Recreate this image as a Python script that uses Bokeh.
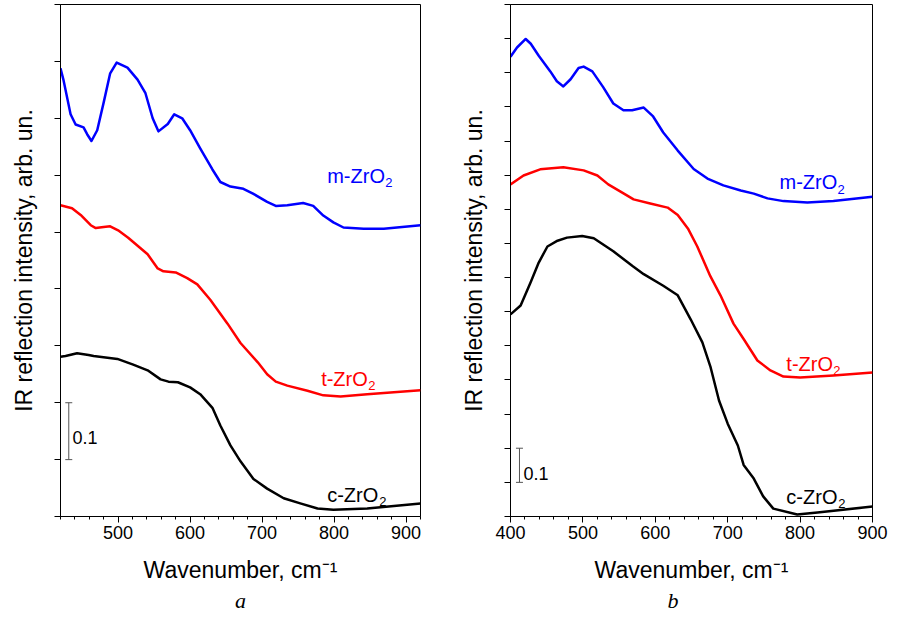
from bokeh.plotting import figure
from bokeh.layouts import row
from bokeh.models import Range1d, SingleIntervalTicker, Label, Title, CustomJSTickFormatter
from bokeh.embed import file_html
from bokeh.resources import INLINE

# ---------------- Panel a ----------------
a_m_x = [420, 424, 434, 441, 452, 457, 463, 471, 480, 489, 498, 513, 527, 538, 548, 556, 569, 578,
         589, 600, 614, 631, 642, 656, 674, 688, 707, 719, 735, 757, 771, 785, 799, 813, 841, 869, 920]
a_m_y = [0.788, 0.768, 0.707, 0.689, 0.684, 0.672, 0.660, 0.679, 0.728, 0.779, 0.798, 0.789, 0.768,
         0.744, 0.700, 0.677, 0.690, 0.707, 0.700, 0.679, 0.647, 0.610, 0.588, 0.580, 0.576, 0.567,
         0.553, 0.546, 0.547, 0.551, 0.546, 0.529, 0.517, 0.508, 0.506, 0.506, 0.512]

a_t_x = [420, 436, 448, 462, 469, 480, 489, 500, 514, 541, 555, 563, 580, 596, 610, 628, 652, 670,
         694, 707, 719, 735, 763, 785, 809, 846, 920]
a_t_y = [0.547, 0.542, 0.530, 0.512, 0.507, 0.509, 0.510, 0.503, 0.490, 0.461, 0.436, 0.431, 0.429,
         0.419, 0.408, 0.381, 0.339, 0.305, 0.271, 0.250, 0.237, 0.230, 0.221, 0.213, 0.211, 0.215, 0.222]

a_c_x = [420, 427, 443, 459, 466, 499, 521, 541, 559, 570, 583, 600, 614, 631, 642, 656, 670, 688,
         707, 730, 753, 777, 799, 846, 920]
a_c_y = [0.281, 0.282, 0.287, 0.284, 0.282, 0.277, 0.267, 0.257, 0.241, 0.237, 0.236, 0.227, 0.215,
         0.191, 0.160, 0.125, 0.097, 0.066, 0.049, 0.032, 0.023, 0.014, 0.012, 0.014, 0.023]

# ---------------- Panel b ----------------
b_m_x = [400, 409, 421, 428, 439, 455, 464, 473, 483, 494, 501, 513, 528, 542, 556, 568, 584, 597,
         611, 631, 653, 672, 694, 718, 736, 755, 777, 810, 846, 900]
b_m_y = [1.347, 1.374, 1.399, 1.385, 1.350, 1.304, 1.275, 1.260, 1.281, 1.314, 1.318, 1.304, 1.258,
         1.210, 1.190, 1.190, 1.198, 1.172, 1.125, 1.072, 1.018, 0.990, 0.970, 0.955, 0.946, 0.932,
         0.924, 0.920, 0.924, 0.937]

b_t_x = [400, 418, 441, 473, 501, 520, 535, 552, 570, 593, 617, 631, 645, 658, 676, 690, 708, 722,
         741, 759, 777, 800, 846, 900]
b_t_y = [0.973, 0.999, 1.017, 1.023, 1.014, 0.999, 0.973, 0.952, 0.929, 0.917, 0.905, 0.883, 0.844,
         0.791, 0.704, 0.648, 0.565, 0.520, 0.457, 0.428, 0.410, 0.407, 0.413, 0.422]

b_c_x = [400, 414, 428, 439, 451, 465, 478, 499, 515, 542, 569, 584, 611, 631, 649, 665, 676, 688,
         700, 714, 722, 736, 749, 763, 796, 824, 900]
b_c_y = [0.592, 0.618, 0.687, 0.744, 0.791, 0.808, 0.817, 0.822, 0.815, 0.777, 0.733, 0.710, 0.676,
         0.648, 0.577, 0.510, 0.440, 0.340, 0.272, 0.208, 0.151, 0.111, 0.059, 0.023, 0.006, 0.012, 0.029]

series_names = ["m-ZrO", "t-ZrO", "c-ZrO"]
series_colors = ["#0000ff", "#ff0000", "#000000"]
scale_value = 0.1

FONT = "Liberation Sans"


def make_panel(xr, yr, curves, labels, bar_x, bar_text_xy, caption, cap_align, cap_offset,
               width, border_left, border_right):
    p = figure(width=width, height=617,
               x_range=Range1d(xr[0], xr[1]), y_range=Range1d(yr[0], yr[1]),
               output_backend="svg", toolbar_location=None,
               min_border_left=border_left, min_border_right=border_right,
               min_border_top=4, min_border_bottom=101)
    p.grid.visible = False
    p.outline_line_color = "black"
    p.outline_line_width = 1
    p.background_fill_color = "white"
    p.border_fill_color = "white"

    p.xaxis.ticker = SingleIntervalTicker(interval=100, num_minor_ticks=5)
    p.xaxis.major_tick_in = 0
    p.xaxis.major_tick_out = 6
    p.xaxis.minor_tick_in = 0
    p.xaxis.minor_tick_out = 3
    p.xaxis.major_label_text_font = FONT
    p.xaxis.major_label_text_font_size = "18px"
    p.xaxis.major_label_text_color = "black"
    p.xaxis.major_label_standoff = 3
    p.xaxis.axis_label = "Wavenumber, cm\u207b\u00b9"
    p.xaxis.axis_label_text_font = FONT
    p.xaxis.axis_label_text_font_size = "23px"
    p.xaxis.axis_label_text_font_style = "normal"
    p.xaxis.axis_label_text_color = "black"
    p.xaxis.axis_label_standoff = 15
    p.xaxis.axis_line_color = "black"

    p.yaxis.ticker = SingleIntervalTicker(interval=0.1, num_minor_ticks=0)
    p.yaxis.formatter = CustomJSTickFormatter(code="return '';")
    p.yaxis.major_tick_in = 0
    p.yaxis.major_tick_out = 6
    p.yaxis.minor_tick_line_color = None
    p.yaxis.major_label_standoff = 0
    p.yaxis.axis_label = "IR reflection intensity, arb. un."
    p.yaxis.axis_label_text_font = FONT
    p.yaxis.axis_label_text_font_size = "23px"
    p.yaxis.axis_label_text_font_style = "normal"
    p.yaxis.axis_label_text_color = "black"
    p.yaxis.axis_label_standoff = 18
    p.yaxis.axis_line_color = "black"

    for (xs, ys), col in zip(curves, series_colors):
        p.line(xs, ys, line_color=col, line_width=2.5, line_join="round")

    sub_offsets = [58, 47, 52]
    for (lx, ly), name, col, so in zip(labels, series_names, series_colors, sub_offsets):
        p.add_layout(Label(x=lx, y=ly, text=name, text_font=FONT, text_font_size="20px",
                           text_color=col, text_baseline="alphabetic", text_align="left"))
        p.add_layout(Label(x=lx, y=ly, x_offset=so, y_offset=-7, text="2", text_font=FONT,
                           text_font_size="13px", text_color=col,
                           text_baseline="alphabetic", text_align="left"))

    # scale bar
    p.segment(x0=[bar_x], y0=[scale_value], x1=[bar_x], y1=[2 * scale_value],
              line_color="#555555", line_width=1)
    p.scatter(x=[bar_x, bar_x], y=[scale_value, 2 * scale_value], marker="dash", size=7,
              line_color="#555555", line_width=1)
    p.add_layout(Label(x=bar_text_xy[0], y=bar_text_xy[1], text=str(scale_value), text_font=FONT,
                       text_font_size="18px", text_color="black", text_baseline="alphabetic"))

    p.add_layout(Title(text=caption, align=cap_align, offset=cap_offset,
                       text_font="Liberation Serif", text_font_style="italic",
                       text_font_size="22px", text_color="black", standoff=0), "below")
    return p


pa = make_panel((420, 920), (0, 0.9),
                [(a_m_x, a_m_y), (a_t_x, a_t_y), (a_c_x, a_c_y)],
                [(790.4, 0.599), (782, 0.242), (790.4, 0.038)],
                431.5, (436.7, 0.139), "a", "center", 0, 450, 60, 30)
pb = make_panel((400, 900), (0, 1.5),
                [(b_m_x, b_m_y), (b_t_x, b_t_y), (b_c_x, b_c_y)],
                [(771.5, 0.979), (781, 0.447), (781, 0.058)],
                412.4, (418, 0.126), "b", "left", 157, 446, 60, 24)

layout = row(pa, pb)
open("out.html", "w").write(file_html(layout, INLINE))
